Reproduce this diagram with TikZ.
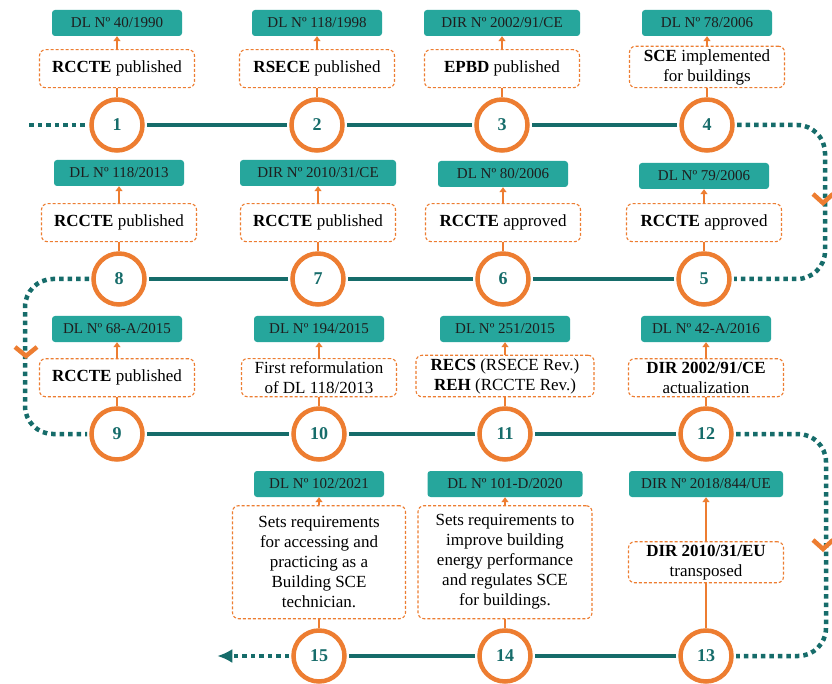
\documentclass[tikz,border=0pt]{standalone}
\usepackage{fontspec}
\setmainfont{Liberation Serif}
\usetikzlibrary{arrows.meta,positioning}
\definecolor{epborange}{RGB}{237,125,49}
\definecolor{epbteal}{RGB}{38,166,156}
\definecolor{epbdark}{RGB}{22,108,106}
\definecolor{epbtext}{RGB}{30,30,30}
\tikzset{
    epblaw/.style={fill=epbteal, rounded corners=3pt, minimum width=130pt,
        minimum height=26pt, inner sep=2pt, text=epbtext,
        font=\fontsize{15}{17}\selectfont},
    epbnote/.style={draw=epborange, dash pattern=on 3pt off 2pt, line width=1.1pt,
        rounded corners=6pt, fill=white, align=center, minimum width=155pt,
        minimum height=38pt, inner sep=3pt, font=\fontsize{17}{20}\selectfont},
    epbstage/.style={circle, draw=epborange, line width=4.5pt, fill=white,
        minimum size=51pt, inner sep=0pt, text=epbdark,
        font=\fontsize{18}{18}\selectfont\bfseries},
    epbline/.style={draw=epbdark, line width=4.5pt, shorten <=2.25pt, shorten >=2.25pt},
    epbdots/.style={draw=epbdark, line width=4.5pt, dash pattern=on 4.5pt off 4pt,
        rounded corners=28pt, shorten <=2.25pt, shorten >=2.25pt},
    epbstem/.style={draw=epborange, line width=2pt},
    epbarrow/.style={draw=epborange, line width=2pt, -{Triangle[length=5pt,width=7pt]}},
    epbchevron/.style={draw=epborange, line width=4.5pt}
}

\begin{document}
\begin{tikzpicture}[x=1pt, y=-1pt, node distance=9pt]
        \useasboundingbox[fill=white] (0,0) rectangle (832,684);

        % first row
        \node[epbstage] (c1) at (117,125) {1};
        \node[epbstage] (c2) at (317,125) {2};
        \node[epbstage] (c3) at (502,125) {3};
        \node[epbstage] (c4) at (707,125) {4};
        \node[epbnote, above=of c1] (n1) {\textbf{RCCTE} published};
        \node[epbnote, above=of c2] (n2) {\textbf{RSECE} published};
        \node[epbnote, above=of c3] (n3) {\textbf{EPBD} published};
        \node[epbnote, above=of c4] (n4) {\textbf{SCE} implemented\\for buildings};
        \node[epblaw] (l1) at (117,23) {DL Nº 40/1990};
        \node[epblaw] (l2) at (317,23) {DL Nº 118/1998};
        \node[epblaw, minimum width=156pt] (l3) at (502,23) {DIR Nº 2002/91/CE};
        \node[epblaw] (l4) at (707,23) {DL Nº 78/2006};

        % second row
        \node[epbstage] (c8) at (119,279) {8};
        \node[epbstage] (c7) at (318,279) {7};
        \node[epbstage] (c6) at (503,279) {6};
        \node[epbstage] (c5) at (704,279) {5};
        \node[epbnote, above=of c8] (n8) {\textbf{RCCTE} published};
        \node[epbnote, above=of c7] (n7) {\textbf{RCCTE} published};
        \node[epbnote, above=of c6] (n6) {\textbf{RCCTE} approved};
        \node[epbnote, above=of c5] (n5) {\textbf{RCCTE} approved};
        \node[epblaw] (l8) at (119,173) {DL Nº 118/2013};
        \node[epblaw, minimum width=156pt] (l7) at (318,173) {DIR Nº 2010/31/CE};
        \node[epblaw] (l6) at (503,174) {DL Nº 80/2006};
        \node[epblaw] (l5) at (704,176) {DL Nº 79/2006};

        % third row
        \node[epbstage] (c9) at (117,434) {9};
        \node[epbstage] (c10) at (319,434) {10};
        \node[epbstage] (c11) at (505,434) {11};
        \node[epbstage] (c12) at (706,434) {12};
        \node[epbnote, above=of c9] (n9) {\textbf{RCCTE} published};
        \node[epbnote, above=of c10] (n10) {First reformulation\\of DL 118/2013};
        \node[epbnote, above=of c11, minimum width=178pt] (n11)
            {\textbf{RECS} (RSECE Rev.)\\\textbf{REH} (RCCTE Rev.)};
        \node[epbnote, above=of c12] (n12) {\textbf{DIR 2002/91/CE}\\actualization};
        \node[epblaw] (l9) at (117,329) {DL Nº 68-A/2015};
        \node[epblaw] (l10) at (319,329) {DL Nº 194/2015};
        \node[epblaw] (l11) at (505,329) {DL Nº 251/2015};
        \node[epblaw] (l12) at (706,329) {DL Nº 42-A/2016};

        % fourth row
        \node[epbstage] (c15) at (319,656) {15};
        \node[epbstage] (c14) at (505,656) {14};
        \node[epbstage] (c13) at (706,656) {13};
        \node[epbnote, above=of c15, minimum width=173pt, minimum height=113pt] (n15)
            {Sets requirements\\for accessing and\\practicing as a\\Building SCE\\technician.};
        \node[epbnote, above=of c14, minimum width=174pt, minimum height=113pt] (n14)
            {Sets requirements to\\improve building\\energy performance\\and regulates SCE\\for buildings.};
        \node[epbnote, above=45pt of c13] (n13) {\textbf{DIR 2010/31/EU}\\transposed};
        \node[epblaw] (l15) at (319,484) {DL Nº 102/2021};
        \node[epblaw, minimum width=155pt] (l14) at (505,484) {DL Nº 101-D/2020};
        \node[epblaw, minimum width=154pt] (l13) at (706,484) {DIR Nº 2018/844/UE};

        \coordinate (start) at (27,125);
        \coordinate (bendA) at (825,125);
        \coordinate (bendB) at (25,279);
        \coordinate (bendC) at (826,434);
        \coordinate (finish) at (215,656);

        % timeline
        \draw[epbdots] (start) -- (c1);
        \draw[epbline] (c1) -- (c2);
        \draw[epbline] (c2) -- (c3);
        \draw[epbline] (c3) -- (c4);
        \draw[epbdots] (c4) -- (bendA) |- (c5);
        \draw[epbline] (c5) -- (c6);
        \draw[epbline] (c6) -- (c7);
        \draw[epbline] (c7) -- (c8);
        \draw[epbdots] (c8) -- (bendB) |- (c9);
        \draw[epbline] (c9) -- (c10);
        \draw[epbline] (c10) -- (c11);
        \draw[epbline] (c11) -- (c12);
        \draw[epbdots] (c12) -- (bendC) |- (c13);
        \draw[epbline] (c13) -- (c14);
        \draw[epbline] (c14) -- (c15);
        \draw[epbdots, -{Latex[length=15pt,width=14pt]}] (c15) -- (finish);

        \draw[epbchevron] (813,194) -- (823,203) -- (833,194);
        \draw[epbchevron] (15,347) -- (26,356) -- (37,347);
        \draw[epbchevron] (813,540) -- (823,549) -- (833,540);

        % stems and arrows
        \draw[epbstem] (c1) -- (n1);   \draw[epbarrow] (n1) -- (l1);
        \draw[epbstem] (c2) -- (n2);   \draw[epbarrow] (n2) -- (l2);
        \draw[epbstem] (c3) -- (n3);   \draw[epbarrow] (n3) -- (l3);
        \draw[epbstem] (c4) -- (n4);   \draw[epbarrow] (n4) -- (l4);
        \draw[epbstem] (c5) -- (n5);   \draw[epbarrow] (n5) -- (l5);
        \draw[epbstem] (c6) -- (n6);   \draw[epbarrow] (n6) -- (l6);
        \draw[epbstem] (c7) -- (n7);   \draw[epbarrow] (n7) -- (l7);
        \draw[epbstem] (c8) -- (n8);   \draw[epbarrow] (n8) -- (l8);
        \draw[epbstem] (c9) -- (n9);   \draw[epbarrow] (n9) -- (l9);
        \draw[epbstem] (c10) -- (n10); \draw[epbarrow] (n10) -- (l10);
        \draw[epbstem] (c11) -- (n11); \draw[epbarrow] (n11) -- (l11);
        \draw[epbstem] (c12) -- (n12); \draw[epbarrow] (n12) -- (l12);
        \draw[epbstem] (c13) -- (n13); \draw[epbarrow] (n13) -- (l13);
        \draw[epbstem] (c14) -- (n14); \draw[epbarrow] (n14) -- (l14);
        \draw[epbstem] (c15) -- (n15); \draw[epbarrow] (n15) -- (l15);
    \end{tikzpicture}
\end{document}
